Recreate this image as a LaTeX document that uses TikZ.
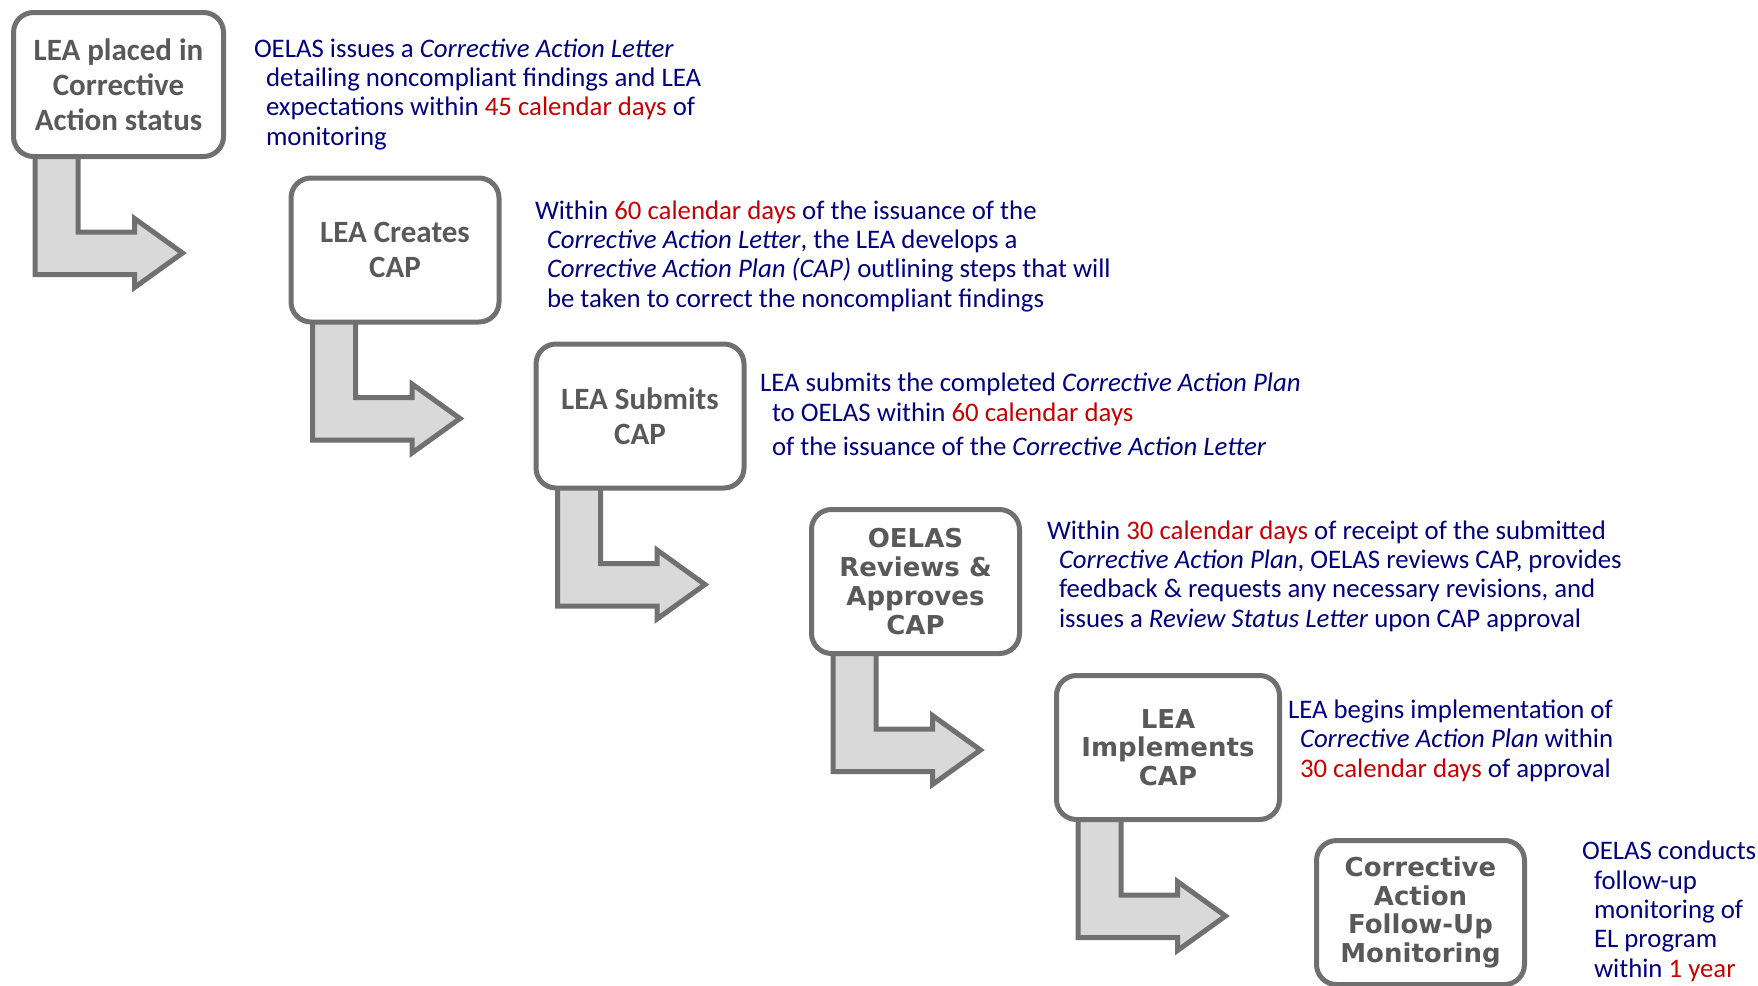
\documentclass[tikz,border=0pt]{standalone}
\usepackage{fontspec}
\setmainfont{Carlito}
\newfontfamily\vfont{DejaVu Sans}
\usetikzlibrary{calc,backgrounds}
\definecolor{navy}{RGB}{0,0,128}
\definecolor{redtxt}{RGB}{200,0,0}
\definecolor{boxgray}{RGB}{112,112,112}
\definecolor{txtgray}{RGB}{89,89,89}
\definecolor{arrowfill}{RGB}{217,217,217}
\newcommand\myind{\hspace*{6pt}}
\newcommand\rd[1]{\textcolor{redtxt}{#1}}
\begin{document}
\begin{tikzpicture}[x=0.5pt,y=-0.5pt,
  box/.style={draw=boxgray, line width=2.5pt, fill=white, rounded corners=10pt,
    minimum height=72pt, minimum width=104pt, inner sep=0pt, outer sep=0pt,
    align=center, text=txtgray},
  cbox/.style={box, font=\bfseries\fontsize{15.5}{17.5}\selectfont},
  vbox/.style={box, font=\vfont\bfseries\fontsize{13}{14.4}\selectfont},
  desc/.style={anchor=base west, inner sep=0pt, outer sep=0pt, align=left,
    text=navy, font=\fontsize{13.4}{14.65}\selectfont},
  elbow/.style={draw=boxgray, line width=2.5pt, fill=arrowfill, line join=miter}]
\useasboundingbox (0,0) rectangle (1758,986);

\node[cbox, minimum width=105pt] (b1) at (118.5,84.5) {LEA placed in\\Corrective\\Action status};
\node[cbox] (b2) at (395,250) {LEA Creates\\CAP};
\node[cbox] (b3) at (640,416) {LEA Submits\\CAP};
\node[vbox] (b4) at (915.5,581.5) {OELAS\\Reviews \&\\Approves\\CAP};
\node[vbox, minimum width=111.5pt] (b5) at (1168,747.5) {LEA\\Implements\\CAP};
\node[vbox] (b6) at (1420.5,912.5) {Corrective\\Action\\Follow-Up\\Monitoring};

\begin{pgfonlayer}{background}
\foreach \b in {b1,b2,b3,b4,b5}{
  \draw[elbow] ($(\b.south west)+(21.5,-4)$) -- ($(\b.south west)+(21.5,118)$)
    -- ($(\b.south west)+(121,118)$) -- ($(\b.south west)+(121,131)$)
    -- ($(\b.south west)+(169,96.5)$) -- ($(\b.south west)+(121,62)$)
    -- ($(\b.south west)+(121,75.5)$) -- ($(\b.south west)+(64.5,75.5)$)
    -- ($(\b.south west)+(64.5,-4)$) -- cycle;
}
\end{pgfonlayer}

% anchors are at the baseline of the last line
\node[desc] (t1) at (254,145) {OELAS issues a \textit{Corrective Action Letter}\\
\myind detailing noncompliant findings and LEA\\
\myind expectations within \rd{45 calendar days} of\\
\myind monitoring};

\node[desc] (t2) at (535,307) {Within \rd{60 calendar days} of the issuance of the\\
\myind\textit{Corrective Action Letter}, the LEA develops a\\
\myind\textit{Corrective Action Plan (CAP)} outlining steps that will\\
\myind be taken to correct the noncompliant findings};

\node[desc] (t3) at (760,455) {LEA submits the completed \textit{Corrective Action Plan}\\[0.3pt]
\myind to OELAS within \rd{60 calendar days}\\[2.3pt]
\myind of the issuance of the \textit{Corrective Action Letter}};

\node[desc] (t4) at (1047,627) {Within \rd{30 calendar days} of receipt of the submitted\\
\myind\textit{Corrective Action Plan}, OELAS reviews CAP, provides\\
\myind feedback \& requests any necessary revisions, and\\
\myind issues a \textit{Review Status Letter} upon CAP approval};

\node[desc] (t5) at (1288,777) {LEA begins implementation of\\
\myind\textit{Corrective Action Plan} within\\
\myind\rd{30 calendar days} of approval};

\node[desc] (t6) at (1582,977) {OELAS conducts\\
\myind follow-up\\
\myind monitoring of\\
\myind EL program\\
\myind within \rd{1 year}};
\end{tikzpicture}
\end{document}
